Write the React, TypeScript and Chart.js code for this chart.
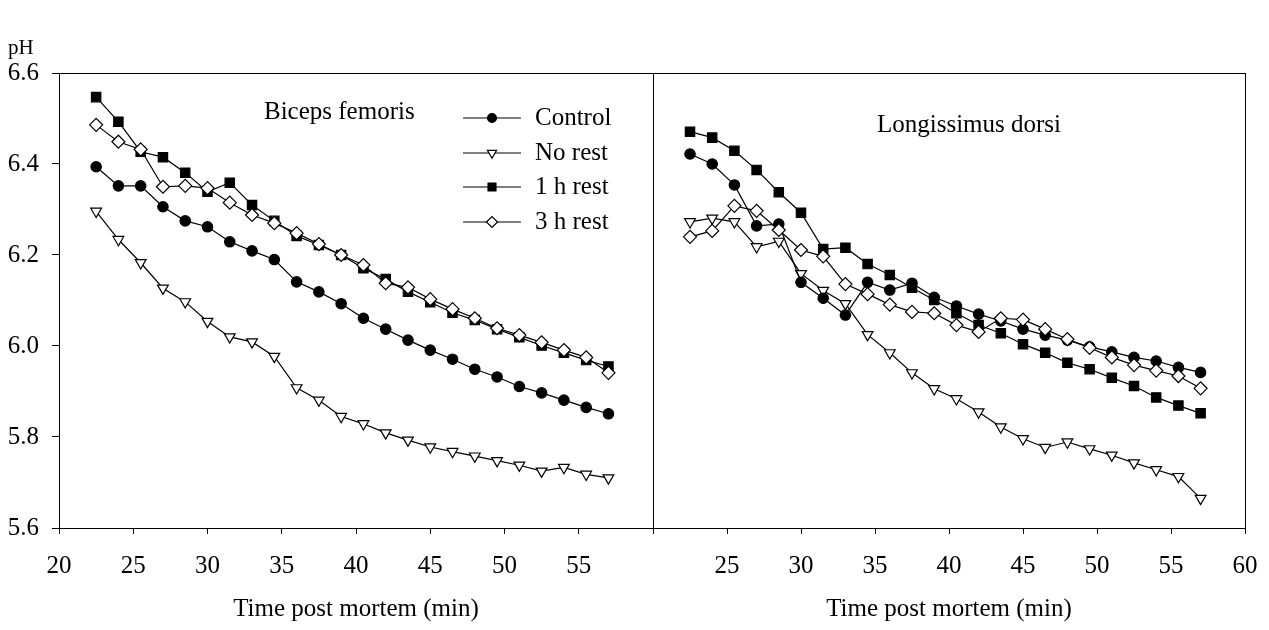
import React, { useEffect, useRef } from 'react';
import { Chart, registerables } from 'chart.js';

Chart.register(...registerables);

// ---------- data ----------
const timeMin = [22.5, 24, 25.5, 27, 28.5, 30, 31.5, 33, 34.5, 36, 37.5, 39, 40.5, 42, 43.5, 45, 46.5, 48, 49.5, 51, 52.5, 54, 55.5, 57];

const seriesLabels = ['Control', 'No rest', '1 h rest', '3 h rest'];

// Biceps femoris
const bfControl = [6.394, 6.352, 6.352, 6.306, 6.275, 6.262, 6.229, 6.209, 6.190, 6.141, 6.119, 6.093, 6.061, 6.037, 6.013, 5.991, 5.971, 5.949, 5.932, 5.911, 5.897, 5.881, 5.865, 5.851];
const bfNoRest = [6.296, 6.234, 6.183, 6.127, 6.097, 6.054, 6.020, 6.009, 5.977, 5.908, 5.881, 5.845, 5.829, 5.809, 5.793, 5.778, 5.768, 5.758, 5.748, 5.738, 5.725, 5.733, 5.718, 5.710];
const bf1h = [6.547, 6.493, 6.427, 6.415, 6.381, 6.339, 6.359, 6.310, 6.275, 6.242, 6.222, 6.200, 6.171, 6.147, 6.119, 6.096, 6.073, 6.057, 6.037, 6.019, 6.001, 5.985, 5.969, 5.955];
const bf3h = [6.486, 6.449, 6.432, 6.350, 6.352, 6.347, 6.315, 6.288, 6.270, 6.248, 6.224, 6.200, 6.178, 6.138, 6.129, 6.103, 6.081, 6.061, 6.039, 6.024, 6.008, 5.991, 5.975, 5.941];

// Longissimus dorsi
const ldControl = [6.422, 6.400, 6.354, 6.264, 6.268, 6.140, 6.105, 6.068, 6.140, 6.123, 6.138, 6.107, 6.088, 6.070, 6.055, 6.037, 6.024, 6.013, 5.998, 5.987, 5.975, 5.967, 5.953, 5.942];
const ldNoRest = [6.273, 6.281, 6.273, 6.218, 6.230, 6.159, 6.122, 6.093, 6.025, 5.985, 5.941, 5.906, 5.884, 5.855, 5.822, 5.796, 5.777, 5.789, 5.774, 5.760, 5.743, 5.728, 5.713, 5.665];
const ld1h = [6.471, 6.458, 6.429, 6.387, 6.338, 6.293, 6.213, 6.216, 6.180, 6.156, 6.128, 6.101, 6.072, 6.046, 6.028, 6.004, 5.985, 5.963, 5.949, 5.930, 5.912, 5.887, 5.869, 5.852];
const ld3h = [6.240, 6.253, 6.308, 6.297, 6.255, 6.211, 6.197, 6.136, 6.114, 6.091, 6.075, 6.072, 6.046, 6.031, 6.061, 6.058, 6.037, 6.015, 5.996, 5.975, 5.958, 5.946, 5.934, 5.907];

const xTicksMin = 20;
const xTicksMax = 60;
const xStep = 5;
const yMin = 5.6;
const yMax = 6.6;
const yStep = 0.2;

const panelTitles = ['Biceps femoris', 'Longissimus dorsi'];
const yAxisTitle = 'pH';
const xAxisTitle = 'Time post mortem (min)';

// ---------- styles ----------
const FONT = '"Liberation Serif", "Times New Roman", serif';
const FS = 25;

const markerStyles = [
  { pointStyle: 'circle', radius: 5.2, fill: '#000', rotation: 0 },
  { pointStyle: 'triangle', radius: 6.2, fill: '#fff', rotation: 180 },
  { pointStyle: 'rect', radius: 6.6, fill: '#000', rotation: 0 },
  { pointStyle: 'rectRot', radius: 6.5, fill: '#fff', rotation: 0 },
];
const drawOrder = [1, 2, 3, 0];

function makeDatasets(values: number[][]) {
  return values.map((vals, i) => {
    const m = markerStyles[i];
    return {
      label: seriesLabels[i],
      data: vals.map((v, j) => ({ x: timeMin[j], y: v })),
      borderColor: '#000',
      borderWidth: 1.2,
      backgroundColor: m.fill,
      pointBackgroundColor: m.fill,
      pointBorderColor: '#000',
      pointBorderWidth: 1.2,
      pointStyle: m.pointStyle,
      pointRadius: m.radius,
      pointRotation: m.rotation,
      tension: 0,
      fill: false,
      order: drawOrder[i],
    };
  });
}

function drawMarker(ctx: CanvasRenderingContext2D, style: string, x: number, y: number, r: number, fill: string) {
  ctx.beginPath();
  if (style === 'circle') {
    ctx.arc(x, y, r, 0, Math.PI * 2);
  } else if (style === 'rect') {
    const h = r * Math.SQRT1_2;
    ctx.rect(x - h, y - h, 2 * h, 2 * h);
  } else if (style === 'rectRot') {
    ctx.moveTo(x - r, y);
    ctx.lineTo(x, y - r);
    ctx.lineTo(x + r, y);
    ctx.lineTo(x, y + r);
    ctx.closePath();
  } else {
    const s = r * Math.sin(Math.PI / 3);
    ctx.moveTo(x, y + r);
    ctx.lineTo(x - s, y - r / 2);
    ctx.lineTo(x + s, y - r / 2);
    ctx.closePath();
  }
  ctx.fillStyle = fill;
  ctx.fill();
  ctx.strokeStyle = '#000';
  ctx.lineWidth = 1.2;
  ctx.stroke();
}

const framePlugin = {
  id: 'frame',
  afterDatasetsDraw(chart: any) {
    const { ctx, chartArea } = chart;
    ctx.save();
    ctx.strokeStyle = '#000';
    ctx.lineWidth = 1;
    ctx.strokeRect(Math.round(chartArea.left) + 0.5, Math.round(chartArea.top) + 0.5,
      Math.round(chartArea.right - chartArea.left), Math.round(chartArea.bottom - chartArea.top));
    ctx.restore();
  },
};

function textPlugin(text: string, dx: number, dy: number, showPH: boolean) {
  return {
    id: 'panelText',
    afterDraw(chart: any) {
      const { ctx, chartArea } = chart;
      ctx.save();
      ctx.fillStyle = '#000';
      ctx.font = `${FS}px ${FONT}`;
      ctx.textAlign = 'left';
      ctx.textBaseline = 'middle';
      ctx.fillText(text, chartArea.left + dx, chartArea.top + dy);
      if (showPH) {
        ctx.font = `21px ${FONT}`;
        ctx.fillText(yAxisTitle, 8, 48);
      }
      ctx.restore();
    },
  };
}

const legendPlugin = {
  id: 'customLegend',
  afterDraw(chart: any) {
    const { ctx, chartArea } = chart;
    const rows = [45, 80, 114, 149];
    ctx.save();
    chart.data.datasets.forEach((ds: any, i: number) => {
      const y = chartArea.top + rows[i];
      const x0 = chartArea.left + 404;
      const x1 = chartArea.left + 462;
      const xm = chartArea.left + 433;
      ctx.strokeStyle = '#000';
      ctx.lineWidth = 1.2;
      ctx.beginPath();
      ctx.moveTo(x0, y);
      ctx.lineTo(x1, y);
      ctx.stroke();
      const m = markerStyles[i];
      drawMarker(ctx, m.pointStyle, xm, y, m.radius * 0.85, m.fill);
      ctx.fillStyle = '#000';
      ctx.font = `${FS}px ${FONT}`;
      ctx.textAlign = 'left';
      ctx.textBaseline = 'middle';
      ctx.fillText(ds.label, chartArea.left + 476, y);
    });
    ctx.restore();
  },
};

function makeOptions(hideTick: number, showY: boolean, padding: any) {
  return {
    responsive: false,
    animation: false,
    layout: { padding },
    plugins: { legend: { display: false }, tooltip: { enabled: false } },
    scales: {
      x: {
        type: 'linear',
        min: xTicksMin,
        max: xTicksMax,
        ticks: {
          stepSize: xStep,
          color: '#000',
          font: { family: FONT, size: FS },
          padding: 17,
          maxRotation: 0,
          callback: (v: number) => (v === hideTick ? '' : String(v)),
        },
        grid: { display: true, drawOnChartArea: false, drawTicks: true, tickLength: 6, color: '#000', lineWidth: 1 },
        border: { display: true, color: '#000', width: 1 },
        title: { display: true, text: xAxisTitle, color: '#000', font: { family: FONT, size: FS }, padding: { top: 0, bottom: 6 } },
        afterFit: (s: any) => { s.height = 102; },
      },
      y: {
        type: 'linear',
        display: showY,
        min: yMin,
        max: yMax,
        ticks: {
          stepSize: yStep,
          color: '#000',
          font: { family: FONT, size: FS },
          padding: 13,
          callback: (v: number) => v.toFixed(1),
        },
        grid: { display: true, drawOnChartArea: false, drawTicks: true, tickLength: 7, color: '#000', lineWidth: 1 },
        border: { display: true, color: '#000', width: 1 },
        afterFit: (s: any) => { s.width = showY ? 59 : 0; },
      },
    },
  };
}

export default function App() {
  const ref1 = useRef<HTMLCanvasElement>(null);
  const ref2 = useRef<HTMLCanvasElement>(null);

  useEffect(() => {
    const c1 = new Chart(ref1.current as HTMLCanvasElement, {
      type: 'line',
      data: { datasets: makeDatasets([bfControl, bfNoRest, bf1h, bf3h]) as any },
      options: makeOptions(60, true, { left: 0, top: 73, right: 27, bottom: 0 }) as any,
      plugins: [framePlugin, textPlugin(panelTitles[0], 205, 39, true), legendPlugin],
    });
    const c2 = new Chart(ref2.current as HTMLCanvasElement, {
      type: 'line',
      data: { datasets: makeDatasets([ldControl, ldNoRest, ld1h, ld3h]) as any },
      options: makeOptions(20, false, { left: 33, top: 73, right: 55, bottom: 0 }) as any,
      plugins: [framePlugin, textPlugin(panelTitles[1], 224, 52, false)],
    });
    return () => {
      c1.destroy();
      c2.destroy();
    };
  }, []);

  return (
    <div style={{ position: 'absolute', left: 0, top: 0, width: 1269, height: 630, background: '#fff', overflow: 'hidden' }}>
      <canvas ref={ref1} width={680} height={630} style={{ position: 'absolute', left: 0, top: 0 }} />
      <canvas ref={ref2} width={680} height={630} style={{ position: 'absolute', left: 620, top: 0 }} />
    </div>
  );
}
